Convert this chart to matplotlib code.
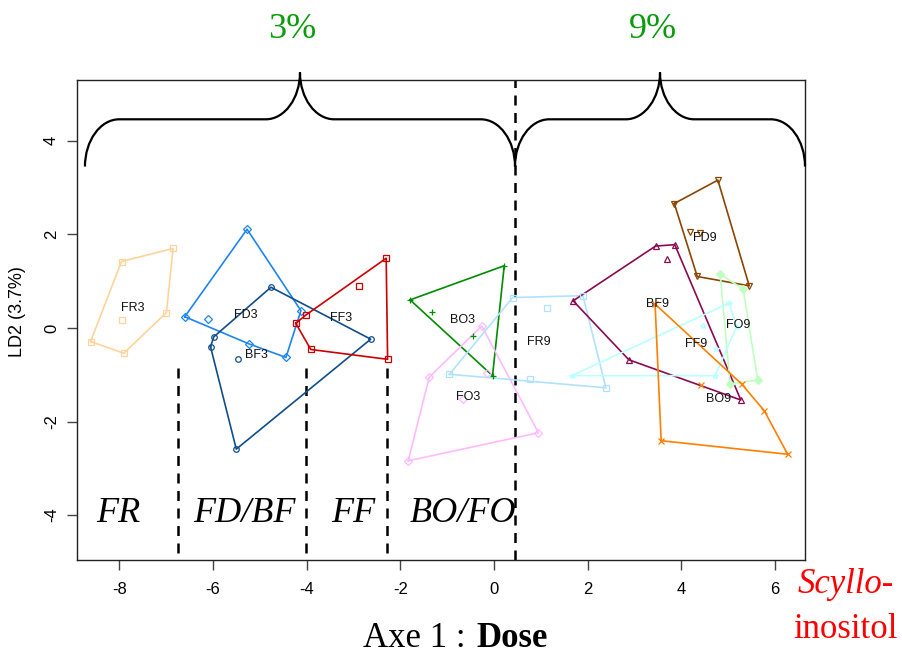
import numpy as np
import matplotlib
matplotlib.use("Agg")
import matplotlib.pyplot as plt
from matplotlib.path import Path
from matplotlib.patches import PathPatch

# LDA scores (LD1, LD2) per group
fr3 = [(-6.85, 1.70), (-7.95, 1.42), (-8.61, -0.29), (-7.90, -0.54), (-6.99, 0.33), (-7.94, 0.17)]
fd3 = [(-5.27, 2.11), (-6.60, 0.24), (-4.44, -0.63), (-4.12, 0.37), (-5.23, -0.34), (-6.11, 0.19)]
bf3 = [(-4.76, 0.87), (-5.98, -0.19), (-6.05, -0.40), (-5.50, -2.59), (-2.63, -0.24), (-5.46, -0.67)]
ff3 = [(-2.30, 1.49), (-4.23, 0.10), (-3.91, -0.46), (-2.27, -0.67), (-4.01, 0.28), (-2.88, 0.90)]
bo3 = [(-1.79, 0.60), (0.22, 1.33), (-0.03, -1.02), (-1.33, 0.34), (-0.45, -0.17)]
fo3 = [(-0.26, 0.04), (-1.38, -1.05), (-1.83, -2.84), (0.95, -2.24), (-0.15, -0.96), (-0.67, -1.52)]
fr9 = [(0.40, 0.65), (1.90, 0.69), (2.39, -1.28), (-0.95, -0.99), (1.14, 0.43), (0.76, -1.10)]
bf9 = [(3.45, 1.75), (3.86, 1.78), (1.69, 0.58), (2.88, -0.68), (5.27, -1.54), (3.69, 1.47)]
fd9 = [(4.78, 3.16), (3.85, 2.66), (4.34, 1.10), (5.45, 0.90), (4.19, 2.06), (4.40, 2.02)]
fo9 = [(4.83, 1.15), (5.32, 0.83), (5.63, -1.11), (5.04, -1.20)]
ff9 = [(5.02, 0.53), (1.66, -1.02), (4.72, -1.02), (5.18, 0.03), (4.46, 0.05), (4.75, -0.45)]
bo9 = [(3.44, 0.51), (3.57, -2.41), (6.27, -2.70), (5.77, -1.77), (5.29, -1.20), (4.41, -1.23)]

group_names = ["FR3", "FD3", "BF3", "FF3", "BO3", "FO3", "FR9", "BF9", "FD9", "FO9", "FF9", "BO9"]
group_points = [fr3, fd3, bf3, ff3, bo3, fo3, fr9, bf9, fd9, fo9, ff9, bo9]
group_colors = ["#FFD39B", "#1C86EE", "#104E8B", "#CD0000", "#008B00", "#FFBBFF",
                "#B0E2FF", "#8B0A50", "#8B4500", "#C1FFC1", "#BBFFFF", "#FF7F00"]
group_markers = ["s", "D", "o", "s", "+", "D", "s", "^", "v", "D", "*", "x"]
# where the group name is printed (group centre)
label_pos = [(-7.71, 0.42), (-5.29, 0.28), (-5.06, -0.58), (-3.26, 0.22), (-0.67, 0.17), (-0.55, -1.47),
             (0.95, -0.31), (3.50, 0.51), (4.51, 1.92), (5.22, 0.06), (4.31, -0.34), (4.79, -1.52)]

# separators between the zones and the zone names
zone_lines = [-6.74, -4.01, -2.28]
zone_line_top = -0.85
dose_split = 0.45
zone_names = ["FR", "FD/BF", "FF", "BO/FO"]
zone_x = [-8.02, -5.33, -3.0, -0.66]
dose_names = ["3%", "9%"]


def convex_hull(pts):
    pts = sorted(set(pts))
    def cross(o, a, b):
        return (a[0] - o[0]) * (b[1] - o[1]) - (a[1] - o[1]) * (b[0] - o[0])
    lower, upper = [], []
    for p in pts:
        while len(lower) >= 2 and cross(lower[-2], lower[-1], p) <= 0:
            lower.pop()
        lower.append(p)
    for p in reversed(pts):
        while len(upper) >= 2 and cross(upper[-2], upper[-1], p) <= 0:
            upper.pop()
        upper.append(p)
    return lower[:-1] + upper[:-1]


def brace(x0, x1, y0=3.45, y1=4.46, y2=5.46, r=0.73, k=0.55):
    m = (x0 + x1) / 2
    verts = [(x0, y0), (x0, y0 + k * (y1 - y0)), (x0 + r - k * r, y1), (x0 + r, y1),
             (m - r, y1),
             (m - r + k * r, y1), (m, y2 - k * (y2 - y1)), (m, y2),
             (m, y2 - k * (y2 - y1)), (m + r - k * r, y1), (m + r, y1),
             (x1 - r, y1),
             (x1 - r + k * r, y1), (x1, y0 + k * (y1 - y0)), (x1, y0)]
    C = Path.CURVE4
    codes = [Path.MOVETO, C, C, C, Path.LINETO, C, C, C, C, C, C, Path.LINETO, C, C, C]
    return Path(verts, codes), m


plt.rcParams['font.family'] = ['Liberation Sans', 'DejaVu Sans']
plt.rcParams['axes.unicode_minus'] = False
serif = 'Liberation Serif'

fig = plt.figure(figsize=(9.02, 6.56), dpi=100)
ax = fig.add_axes([77 / 902, 1 - 560 / 656, (805 - 77) / 902, (560 - 80) / 656])
ax.set_xlim(-8.9, 6.64)
ax.set_ylim(-4.96, 5.30)

for name, pts, col, mk in zip(group_names, group_points, group_colors, group_markers):
    hull = convex_hull(pts)
    hx = [p[0] for p in hull] + [hull[0][0]]
    hy = [p[1] for p in hull] + [hull[0][1]]
    ax.plot(hx, hy, color=col, lw=1.2, zorder=2)
    xs = [p[0] for p in pts]
    ys = [p[1] for p in pts]
    filled = 'full' if name == "FO9" else 'none'
    ax.plot(xs, ys, ls='none', marker=mk, ms=4, mew=0.9, color=col, fillstyle=filled, zorder=3)

for name, (lx, ly) in zip(group_names, label_pos):
    ax.text(lx, ly, name, fontsize=9, ha='center', va='center', color='#111111', zorder=4)

# dashed zone separators
ax.axvline(dose_split, color='black', ls=(0, (4, 3)), lw=1.8, zorder=1)
for zx in zone_lines:
    ax.plot([zx, zx], [zone_line_top, -4.96], color='black', ls=(0, (4, 3)), lw=1.8, zorder=1)

for zn, zx in zip(zone_names, zone_x):
    ax.text(zx, -3.97, zn, fontsize=26, family=serif, style='italic', ha='center', va='center')

# braces over the two doses
x_left, x_right = -8.73, 6.64
for (a, b), dn in zip([(x_left, dose_split), (dose_split, x_right)], dose_names):
    p, mid = brace(a, b)
    ax.add_patch(PathPatch(p, fill=False, lw=1.6, color='black', clip_on=False, zorder=5))
    ax.text(mid - 0.16, 6.38, dn, fontsize=26, family=serif, color='#0A9B0A',
            ha='center', va='center', clip_on=False)

ax.set_xticks([-8, -6, -4, -2, 0, 2, 4, 6])
ax.set_yticks([-4, -2, 0, 2, 4])
ax.tick_params(axis='both', length=7, width=1, color='#444444', labelsize=12)
ax.tick_params(axis='x', pad=9)
ax.tick_params(axis='y', pad=6)
for lab in ax.get_yticklabels():
    lab.set_rotation(90)
    lab.set_va('center')
for s in ax.spines.values():
    s.set_linewidth(1.0)
    s.set_color('#222222')

fig.text(18 / 902, 1 - 312 / 656, "LD2 (3.7%)", rotation=90, ha='center', va='center', fontsize=13)

fig.text(474 / 902, 1 / 656, "Axe 1 : ", family=serif, fontsize=25, ha='right', va='bottom')
fig.text(476 / 902, 1 / 656, "Dose", family=serif, fontsize=25, weight='bold',
         ha='left', va='bottom')

fig.text(846 / 902, 1 - 593 / 656, "Scyllo-", family=serif, fontsize=25, style='italic',
         color='red', ha='center', va='baseline')
fig.text(846 / 902, 1 - 638 / 656, "inositol", family=serif, fontsize=25, color='red',
         ha='center', va='baseline')

fig.savefig("out.png", dpi=100)
